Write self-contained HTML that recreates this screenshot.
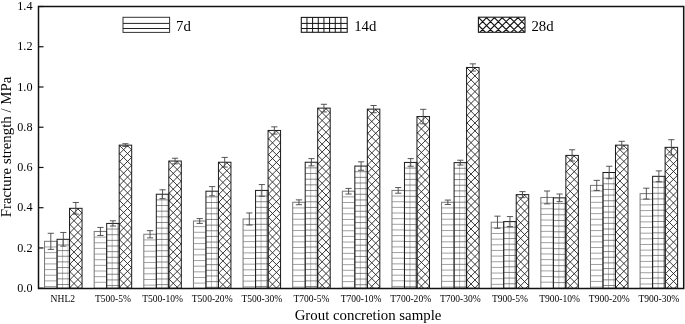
<!DOCTYPE html><html><head><meta charset="utf-8"><style>html,body{margin:0;padding:0;background:#fff;}svg{display:block;will-change:transform;}text{font-family:"Liberation Serif",serif;fill:#000;}</style></head><body>
<svg width="685" height="324" viewBox="0 0 685 324">
<defs><clipPath id="c1"><rect x="69.55" y="208.32" width="12.50" height="79.88"/></clipPath><clipPath id="c2"><rect x="119.18" y="145.14" width="12.50" height="143.06"/></clipPath><clipPath id="c3"><rect x="168.81" y="161.03" width="12.50" height="127.17"/></clipPath><clipPath id="c4"><rect x="218.44" y="162.24" width="12.50" height="125.96"/></clipPath><clipPath id="c5"><rect x="268.07" y="130.45" width="12.50" height="157.75"/></clipPath><clipPath id="c6"><rect x="317.70" y="108.11" width="12.50" height="180.09"/></clipPath><clipPath id="c7"><rect x="367.33" y="109.12" width="12.50" height="179.08"/></clipPath><clipPath id="c8"><rect x="416.96" y="116.56" width="12.50" height="171.64"/></clipPath><clipPath id="c9"><rect x="466.59" y="67.47" width="12.50" height="220.73"/></clipPath><clipPath id="c10"><rect x="516.22" y="194.64" width="12.50" height="93.56"/></clipPath><clipPath id="c11"><rect x="565.85" y="155.40" width="12.50" height="132.80"/></clipPath><clipPath id="c12"><rect x="615.48" y="145.14" width="12.50" height="143.06"/></clipPath><clipPath id="c13"><rect x="665.11" y="147.35" width="12.50" height="140.85"/></clipPath><clipPath id="c14"><rect x="478.4" y="17.2" width="46.60" height="15.10"/></clipPath></defs>
<path d="M44.55 246.97H57.05 M44.55 252.62H57.05 M44.55 258.27H57.05 M44.55 263.92H57.05 M44.55 269.57H57.05 M44.55 275.22H57.05 M44.55 280.87H57.05 M44.55 286.52H57.05" stroke="#8a8a8a" stroke-width="0.8" fill="none"/>
<rect x="44.55" y="241.32" width="12.50" height="46.88" fill="none" stroke="#777" stroke-width="1.0"/>
<path d="M62.55 239.30V288.20 M68.05 239.30V288.20" stroke="#aaa" stroke-width="0.8" fill="none"/>
<path d="M57.05 244.95H69.55 M57.05 250.60H69.55 M57.05 256.25H69.55 M57.05 261.90H69.55 M57.05 267.55H69.55 M57.05 273.20H69.55 M57.05 278.85H69.55 M57.05 284.50H69.55" stroke="#555" stroke-width="0.7" fill="none"/>
<rect x="57.05" y="239.30" width="12.50" height="48.90" fill="none" stroke="#1a1a1a" stroke-width="1.0"/>
<path clip-path="url(#c1)" d="M67.55 182.87L84.05 199.37 M67.55 190.72L84.05 207.22 M67.55 198.57L84.05 215.07 M67.55 206.42L84.05 222.92 M67.55 214.27L84.05 230.77 M67.55 222.12L84.05 238.62 M67.55 229.97L84.05 246.47 M67.55 237.82L84.05 254.32 M67.55 245.67L84.05 262.17 M67.55 253.52L84.05 270.02 M67.55 261.37L84.05 277.87 M67.55 269.22L84.05 285.72 M67.55 277.07L84.05 293.57 M67.55 284.92L84.05 301.42 M67.55 292.77L84.05 309.27 M67.55 300.62L84.05 317.12 M67.55 203.57L84.05 187.07 M67.55 211.42L84.05 194.92 M67.55 219.27L84.05 202.77 M67.55 227.12L84.05 210.62 M67.55 234.97L84.05 218.47 M67.55 242.82L84.05 226.32 M67.55 250.67L84.05 234.17 M67.55 258.52L84.05 242.02 M67.55 266.37L84.05 249.87 M67.55 274.22L84.05 257.72 M67.55 282.07L84.05 265.57 M67.55 289.92L84.05 273.42 M67.55 297.77L84.05 281.27 M67.55 305.62L84.05 289.12 M67.55 313.47L84.05 296.97" stroke="#222" stroke-width="0.9" fill="none"/>
<rect x="69.55" y="208.32" width="12.50" height="79.88" fill="none" stroke="#1a1a1a" stroke-width="1.0"/>
<path d="M50.80 233.27V249.37M47.70 233.27H53.90M47.70 249.37H53.90" stroke="#444" stroke-width="0.9" fill="none"/>
<path d="M63.30 232.46V246.15M60.20 232.46H66.40M60.20 246.15H66.40" stroke="#444" stroke-width="0.9" fill="none"/>
<path d="M75.80 202.48V214.15M72.70 202.48H78.90M72.70 214.15H78.90" stroke="#444" stroke-width="0.9" fill="none"/>
<text x="62.80" y="301.9" font-size="9.55" text-anchor="middle">NHL2</text>
<path d="M94.18 237.11H106.68 M94.18 242.76H106.68 M94.18 248.41H106.68 M94.18 254.06H106.68 M94.18 259.71H106.68 M94.18 265.36H106.68 M94.18 271.01H106.68 M94.18 276.66H106.68 M94.18 282.31H106.68" stroke="#8a8a8a" stroke-width="0.8" fill="none"/>
<rect x="94.18" y="231.46" width="12.50" height="56.74" fill="none" stroke="#777" stroke-width="1.0"/>
<path d="M112.18 223.41V288.20 M117.68 223.41V288.20" stroke="#aaa" stroke-width="0.8" fill="none"/>
<path d="M106.68 229.06H119.18 M106.68 234.71H119.18 M106.68 240.36H119.18 M106.68 246.01H119.18 M106.68 251.66H119.18 M106.68 257.31H119.18 M106.68 262.96H119.18 M106.68 268.61H119.18 M106.68 274.26H119.18 M106.68 279.91H119.18 M106.68 285.56H119.18" stroke="#555" stroke-width="0.7" fill="none"/>
<rect x="106.68" y="223.41" width="12.50" height="64.79" fill="none" stroke="#1a1a1a" stroke-width="1.0"/>
<path clip-path="url(#c2)" d="M117.18 119.69L133.68 136.19 M117.18 127.54L133.68 144.04 M117.18 135.39L133.68 151.89 M117.18 143.24L133.68 159.74 M117.18 151.09L133.68 167.59 M117.18 158.94L133.68 175.44 M117.18 166.79L133.68 183.29 M117.18 174.64L133.68 191.14 M117.18 182.49L133.68 198.99 M117.18 190.34L133.68 206.84 M117.18 198.19L133.68 214.69 M117.18 206.04L133.68 222.54 M117.18 213.89L133.68 230.39 M117.18 221.74L133.68 238.24 M117.18 229.59L133.68 246.09 M117.18 237.44L133.68 253.94 M117.18 245.29L133.68 261.79 M117.18 253.14L133.68 269.64 M117.18 260.99L133.68 277.49 M117.18 268.84L133.68 285.34 M117.18 276.69L133.68 293.19 M117.18 284.54L133.68 301.04 M117.18 292.39L133.68 308.89 M117.18 300.24L133.68 316.74 M117.18 140.39L133.68 123.89 M117.18 148.24L133.68 131.74 M117.18 156.09L133.68 139.59 M117.18 163.94L133.68 147.44 M117.18 171.79L133.68 155.29 M117.18 179.64L133.68 163.14 M117.18 187.49L133.68 170.99 M117.18 195.34L133.68 178.84 M117.18 203.19L133.68 186.69 M117.18 211.04L133.68 194.54 M117.18 218.89L133.68 202.39 M117.18 226.74L133.68 210.24 M117.18 234.59L133.68 218.09 M117.18 242.44L133.68 225.94 M117.18 250.29L133.68 233.79 M117.18 258.14L133.68 241.64 M117.18 265.99L133.68 249.49 M117.18 273.84L133.68 257.34 M117.18 281.69L133.68 265.19 M117.18 289.54L133.68 273.04 M117.18 297.39L133.68 280.89 M117.18 305.24L133.68 288.74 M117.18 313.09L133.68 296.59" stroke="#222" stroke-width="0.9" fill="none"/>
<rect x="119.18" y="145.14" width="12.50" height="143.06" fill="none" stroke="#1a1a1a" stroke-width="1.0"/>
<path d="M100.43 227.43V235.48M97.33 227.43H103.53M97.33 235.48H103.53" stroke="#444" stroke-width="0.9" fill="none"/>
<path d="M112.93 220.79V226.02M109.83 220.79H116.03M109.83 226.02H116.03" stroke="#444" stroke-width="0.9" fill="none"/>
<path d="M125.43 143.73V146.55M122.33 143.73H128.53M122.33 146.55H128.53" stroke="#444" stroke-width="0.9" fill="none"/>
<text x="112.93" y="301.9" font-size="9.55" text-anchor="middle">T500-5%</text>
<path d="M143.81 239.92H156.31 M143.81 245.57H156.31 M143.81 251.22H156.31 M143.81 256.87H156.31 M143.81 262.52H156.31 M143.81 268.17H156.31 M143.81 273.82H156.31 M143.81 279.47H156.31 M143.81 285.12H156.31" stroke="#8a8a8a" stroke-width="0.8" fill="none"/>
<rect x="143.81" y="234.27" width="12.50" height="53.93" fill="none" stroke="#777" stroke-width="1.0"/>
<path d="M161.81 194.23V288.20 M167.31 194.23V288.20" stroke="#aaa" stroke-width="0.8" fill="none"/>
<path d="M156.31 199.88H168.81 M156.31 205.53H168.81 M156.31 211.18H168.81 M156.31 216.83H168.81 M156.31 222.48H168.81 M156.31 228.13H168.81 M156.31 233.78H168.81 M156.31 239.43H168.81 M156.31 245.08H168.81 M156.31 250.73H168.81 M156.31 256.38H168.81 M156.31 262.03H168.81 M156.31 267.68H168.81 M156.31 273.33H168.81 M156.31 278.98H168.81 M156.31 284.63H168.81" stroke="#555" stroke-width="0.7" fill="none"/>
<rect x="156.31" y="194.23" width="12.50" height="93.97" fill="none" stroke="#1a1a1a" stroke-width="1.0"/>
<path clip-path="url(#c3)" d="M166.81 135.58L183.31 152.08 M166.81 143.43L183.31 159.93 M166.81 151.28L183.31 167.78 M166.81 159.13L183.31 175.63 M166.81 166.98L183.31 183.48 M166.81 174.83L183.31 191.33 M166.81 182.68L183.31 199.18 M166.81 190.53L183.31 207.03 M166.81 198.38L183.31 214.88 M166.81 206.23L183.31 222.73 M166.81 214.08L183.31 230.58 M166.81 221.93L183.31 238.43 M166.81 229.78L183.31 246.28 M166.81 237.63L183.31 254.13 M166.81 245.48L183.31 261.98 M166.81 253.33L183.31 269.83 M166.81 261.18L183.31 277.68 M166.81 269.03L183.31 285.53 M166.81 276.88L183.31 293.38 M166.81 284.73L183.31 301.23 M166.81 292.58L183.31 309.08 M166.81 300.43L183.31 316.93 M166.81 156.28L183.31 139.78 M166.81 164.13L183.31 147.63 M166.81 171.98L183.31 155.48 M166.81 179.83L183.31 163.33 M166.81 187.68L183.31 171.18 M166.81 195.53L183.31 179.03 M166.81 203.38L183.31 186.88 M166.81 211.23L183.31 194.73 M166.81 219.08L183.31 202.58 M166.81 226.93L183.31 210.43 M166.81 234.78L183.31 218.28 M166.81 242.63L183.31 226.13 M166.81 250.48L183.31 233.98 M166.81 258.33L183.31 241.83 M166.81 266.18L183.31 249.68 M166.81 274.03L183.31 257.53 M166.81 281.88L183.31 265.38 M166.81 289.73L183.31 273.23 M166.81 297.58L183.31 281.08 M166.81 305.43L183.31 288.93 M166.81 313.28L183.31 296.78" stroke="#222" stroke-width="0.9" fill="none"/>
<rect x="168.81" y="161.03" width="12.50" height="127.17" fill="none" stroke="#1a1a1a" stroke-width="1.0"/>
<path d="M150.06 230.65V237.90M146.96 230.65H153.16M146.96 237.90H153.16" stroke="#444" stroke-width="0.9" fill="none"/>
<path d="M162.56 189.81V198.66M159.46 189.81H165.66M159.46 198.66H165.66" stroke="#444" stroke-width="0.9" fill="none"/>
<path d="M175.06 158.22V163.85M171.96 158.22H178.16M171.96 163.85H178.16" stroke="#444" stroke-width="0.9" fill="none"/>
<text x="162.56" y="301.9" font-size="9.55" text-anchor="middle">T500-10%</text>
<path d="M193.44 226.64H205.94 M193.44 232.29H205.94 M193.44 237.94H205.94 M193.44 243.59H205.94 M193.44 249.24H205.94 M193.44 254.89H205.94 M193.44 260.54H205.94 M193.44 266.19H205.94 M193.44 271.84H205.94 M193.44 277.49H205.94 M193.44 283.14H205.94" stroke="#8a8a8a" stroke-width="0.8" fill="none"/>
<rect x="193.44" y="220.99" width="12.50" height="67.21" fill="none" stroke="#777" stroke-width="1.0"/>
<path d="M211.44 191.21V288.20 M216.94 191.21V288.20" stroke="#aaa" stroke-width="0.8" fill="none"/>
<path d="M205.94 196.86H218.44 M205.94 202.51H218.44 M205.94 208.16H218.44 M205.94 213.81H218.44 M205.94 219.46H218.44 M205.94 225.11H218.44 M205.94 230.76H218.44 M205.94 236.41H218.44 M205.94 242.06H218.44 M205.94 247.71H218.44 M205.94 253.36H218.44 M205.94 259.01H218.44 M205.94 264.66H218.44 M205.94 270.31H218.44 M205.94 275.96H218.44 M205.94 281.61H218.44 M205.94 287.26H218.44" stroke="#555" stroke-width="0.7" fill="none"/>
<rect x="205.94" y="191.21" width="12.50" height="96.99" fill="none" stroke="#1a1a1a" stroke-width="1.0"/>
<path clip-path="url(#c4)" d="M216.44 136.79L232.94 153.29 M216.44 144.64L232.94 161.14 M216.44 152.49L232.94 168.99 M216.44 160.34L232.94 176.84 M216.44 168.19L232.94 184.69 M216.44 176.04L232.94 192.54 M216.44 183.89L232.94 200.39 M216.44 191.74L232.94 208.24 M216.44 199.59L232.94 216.09 M216.44 207.44L232.94 223.94 M216.44 215.29L232.94 231.79 M216.44 223.14L232.94 239.64 M216.44 230.99L232.94 247.49 M216.44 238.84L232.94 255.34 M216.44 246.69L232.94 263.19 M216.44 254.54L232.94 271.04 M216.44 262.39L232.94 278.89 M216.44 270.24L232.94 286.74 M216.44 278.09L232.94 294.59 M216.44 285.94L232.94 302.44 M216.44 293.79L232.94 310.29 M216.44 301.64L232.94 318.14 M216.44 157.49L232.94 140.99 M216.44 165.34L232.94 148.84 M216.44 173.19L232.94 156.69 M216.44 181.04L232.94 164.54 M216.44 188.89L232.94 172.39 M216.44 196.74L232.94 180.24 M216.44 204.59L232.94 188.09 M216.44 212.44L232.94 195.94 M216.44 220.29L232.94 203.79 M216.44 228.14L232.94 211.64 M216.44 235.99L232.94 219.49 M216.44 243.84L232.94 227.34 M216.44 251.69L232.94 235.19 M216.44 259.54L232.94 243.04 M216.44 267.39L232.94 250.89 M216.44 275.24L232.94 258.74 M216.44 283.09L232.94 266.59 M216.44 290.94L232.94 274.44 M216.44 298.79L232.94 282.29 M216.44 306.64L232.94 290.14 M216.44 314.49L232.94 297.99" stroke="#222" stroke-width="0.9" fill="none"/>
<rect x="218.44" y="162.24" width="12.50" height="125.96" fill="none" stroke="#1a1a1a" stroke-width="1.0"/>
<path d="M199.69 218.58V223.41M196.59 218.58H202.79M196.59 223.41H202.79" stroke="#444" stroke-width="0.9" fill="none"/>
<path d="M212.19 186.59V195.84M209.09 186.59H215.29M209.09 195.84H215.29" stroke="#444" stroke-width="0.9" fill="none"/>
<path d="M224.69 157.41V167.07M221.59 157.41H227.79M221.59 167.07H227.79" stroke="#444" stroke-width="0.9" fill="none"/>
<text x="212.19" y="301.9" font-size="9.55" text-anchor="middle">T500-20%</text>
<path d="M243.07 224.63H255.57 M243.07 230.28H255.57 M243.07 235.93H255.57 M243.07 241.58H255.57 M243.07 247.23H255.57 M243.07 252.88H255.57 M243.07 258.53H255.57 M243.07 264.18H255.57 M243.07 269.83H255.57 M243.07 275.48H255.57 M243.07 281.13H255.57 M243.07 286.78H255.57" stroke="#8a8a8a" stroke-width="0.8" fill="none"/>
<rect x="243.07" y="218.98" width="12.50" height="69.22" fill="none" stroke="#777" stroke-width="1.0"/>
<path d="M261.07 190.41V288.20 M266.57 190.41V288.20" stroke="#aaa" stroke-width="0.8" fill="none"/>
<path d="M255.57 196.06H268.07 M255.57 201.71H268.07 M255.57 207.36H268.07 M255.57 213.01H268.07 M255.57 218.66H268.07 M255.57 224.31H268.07 M255.57 229.96H268.07 M255.57 235.61H268.07 M255.57 241.26H268.07 M255.57 246.91H268.07 M255.57 252.56H268.07 M255.57 258.21H268.07 M255.57 263.86H268.07 M255.57 269.51H268.07 M255.57 275.16H268.07 M255.57 280.81H268.07 M255.57 286.46H268.07" stroke="#555" stroke-width="0.7" fill="none"/>
<rect x="255.57" y="190.41" width="12.50" height="97.79" fill="none" stroke="#1a1a1a" stroke-width="1.0"/>
<path clip-path="url(#c5)" d="M266.07 105.00L282.57 121.50 M266.07 112.85L282.57 129.35 M266.07 120.70L282.57 137.20 M266.07 128.55L282.57 145.05 M266.07 136.40L282.57 152.90 M266.07 144.25L282.57 160.75 M266.07 152.10L282.57 168.60 M266.07 159.95L282.57 176.45 M266.07 167.80L282.57 184.30 M266.07 175.65L282.57 192.15 M266.07 183.50L282.57 200.00 M266.07 191.35L282.57 207.85 M266.07 199.20L282.57 215.70 M266.07 207.05L282.57 223.55 M266.07 214.90L282.57 231.40 M266.07 222.75L282.57 239.25 M266.07 230.60L282.57 247.10 M266.07 238.45L282.57 254.95 M266.07 246.30L282.57 262.80 M266.07 254.15L282.57 270.65 M266.07 262.00L282.57 278.50 M266.07 269.85L282.57 286.35 M266.07 277.70L282.57 294.20 M266.07 285.55L282.57 302.05 M266.07 293.40L282.57 309.90 M266.07 301.25L282.57 317.75 M266.07 125.70L282.57 109.20 M266.07 133.55L282.57 117.05 M266.07 141.40L282.57 124.90 M266.07 149.25L282.57 132.75 M266.07 157.10L282.57 140.60 M266.07 164.95L282.57 148.45 M266.07 172.80L282.57 156.30 M266.07 180.65L282.57 164.15 M266.07 188.50L282.57 172.00 M266.07 196.35L282.57 179.85 M266.07 204.20L282.57 187.70 M266.07 212.05L282.57 195.55 M266.07 219.90L282.57 203.40 M266.07 227.75L282.57 211.25 M266.07 235.60L282.57 219.10 M266.07 243.45L282.57 226.95 M266.07 251.30L282.57 234.80 M266.07 259.15L282.57 242.65 M266.07 267.00L282.57 250.50 M266.07 274.85L282.57 258.35 M266.07 282.70L282.57 266.20 M266.07 290.55L282.57 274.05 M266.07 298.40L282.57 281.90 M266.07 306.25L282.57 289.75 M266.07 314.10L282.57 297.60" stroke="#222" stroke-width="0.9" fill="none"/>
<rect x="268.07" y="130.45" width="12.50" height="157.75" fill="none" stroke="#1a1a1a" stroke-width="1.0"/>
<path d="M249.32 212.95V225.02M246.22 212.95H252.42M246.22 225.02H252.42" stroke="#444" stroke-width="0.9" fill="none"/>
<path d="M261.82 184.57V196.25M258.72 184.57H264.92M258.72 196.25H264.92" stroke="#444" stroke-width="0.9" fill="none"/>
<path d="M274.32 126.83V134.07M271.22 126.83H277.42M271.22 134.07H277.42" stroke="#444" stroke-width="0.9" fill="none"/>
<text x="261.82" y="301.9" font-size="9.55" text-anchor="middle">T500-30%</text>
<path d="M292.70 207.93H305.20 M292.70 213.58H305.20 M292.70 219.23H305.20 M292.70 224.88H305.20 M292.70 230.53H305.20 M292.70 236.18H305.20 M292.70 241.83H305.20 M292.70 247.48H305.20 M292.70 253.13H305.20 M292.70 258.78H305.20 M292.70 264.43H305.20 M292.70 270.08H305.20 M292.70 275.73H305.20 M292.70 281.38H305.20 M292.70 287.03H305.20" stroke="#8a8a8a" stroke-width="0.8" fill="none"/>
<rect x="292.70" y="202.28" width="12.50" height="85.92" fill="none" stroke="#777" stroke-width="1.0"/>
<path d="M310.70 162.24V288.20 M316.20 162.24V288.20" stroke="#aaa" stroke-width="0.8" fill="none"/>
<path d="M305.20 167.89H317.70 M305.20 173.54H317.70 M305.20 179.19H317.70 M305.20 184.84H317.70 M305.20 190.49H317.70 M305.20 196.14H317.70 M305.20 201.79H317.70 M305.20 207.44H317.70 M305.20 213.09H317.70 M305.20 218.74H317.70 M305.20 224.39H317.70 M305.20 230.04H317.70 M305.20 235.69H317.70 M305.20 241.34H317.70 M305.20 246.99H317.70 M305.20 252.64H317.70 M305.20 258.29H317.70 M305.20 263.94H317.70 M305.20 269.59H317.70 M305.20 275.24H317.70 M305.20 280.89H317.70 M305.20 286.54H317.70" stroke="#555" stroke-width="0.7" fill="none"/>
<rect x="305.20" y="162.24" width="12.50" height="125.96" fill="none" stroke="#1a1a1a" stroke-width="1.0"/>
<path clip-path="url(#c6)" d="M315.70 82.66L332.20 99.16 M315.70 90.51L332.20 107.01 M315.70 98.36L332.20 114.86 M315.70 106.21L332.20 122.71 M315.70 114.06L332.20 130.56 M315.70 121.91L332.20 138.41 M315.70 129.76L332.20 146.26 M315.70 137.61L332.20 154.11 M315.70 145.46L332.20 161.96 M315.70 153.31L332.20 169.81 M315.70 161.16L332.20 177.66 M315.70 169.01L332.20 185.51 M315.70 176.86L332.20 193.36 M315.70 184.71L332.20 201.21 M315.70 192.56L332.20 209.06 M315.70 200.41L332.20 216.91 M315.70 208.26L332.20 224.76 M315.70 216.11L332.20 232.61 M315.70 223.96L332.20 240.46 M315.70 231.81L332.20 248.31 M315.70 239.66L332.20 256.16 M315.70 247.51L332.20 264.01 M315.70 255.36L332.20 271.86 M315.70 263.21L332.20 279.71 M315.70 271.06L332.20 287.56 M315.70 278.91L332.20 295.41 M315.70 286.76L332.20 303.26 M315.70 294.61L332.20 311.11 M315.70 103.36L332.20 86.86 M315.70 111.21L332.20 94.71 M315.70 119.06L332.20 102.56 M315.70 126.91L332.20 110.41 M315.70 134.76L332.20 118.26 M315.70 142.61L332.20 126.11 M315.70 150.46L332.20 133.96 M315.70 158.31L332.20 141.81 M315.70 166.16L332.20 149.66 M315.70 174.01L332.20 157.51 M315.70 181.86L332.20 165.36 M315.70 189.71L332.20 173.21 M315.70 197.56L332.20 181.06 M315.70 205.41L332.20 188.91 M315.70 213.26L332.20 196.76 M315.70 221.11L332.20 204.61 M315.70 228.96L332.20 212.46 M315.70 236.81L332.20 220.31 M315.70 244.66L332.20 228.16 M315.70 252.51L332.20 236.01 M315.70 260.36L332.20 243.86 M315.70 268.21L332.20 251.71 M315.70 276.06L332.20 259.56 M315.70 283.91L332.20 267.41 M315.70 291.76L332.20 275.26 M315.70 299.61L332.20 283.11 M315.70 307.46L332.20 290.96 M315.70 315.31L332.20 298.81" stroke="#222" stroke-width="0.9" fill="none"/>
<rect x="317.70" y="108.11" width="12.50" height="180.09" fill="none" stroke="#1a1a1a" stroke-width="1.0"/>
<path d="M298.95 199.87V204.70M295.85 199.87H302.05M295.85 204.70H302.05" stroke="#444" stroke-width="0.9" fill="none"/>
<path d="M311.45 158.62V165.86M308.35 158.62H314.55M308.35 165.86H314.55" stroke="#444" stroke-width="0.9" fill="none"/>
<path d="M323.95 104.29V111.94M320.85 104.29H327.05M320.85 111.94H327.05" stroke="#444" stroke-width="0.9" fill="none"/>
<text x="311.45" y="301.9" font-size="9.55" text-anchor="middle">T700-5%</text>
<path d="M342.33 196.86H354.83 M342.33 202.51H354.83 M342.33 208.16H354.83 M342.33 213.81H354.83 M342.33 219.46H354.83 M342.33 225.11H354.83 M342.33 230.76H354.83 M342.33 236.41H354.83 M342.33 242.06H354.83 M342.33 247.71H354.83 M342.33 253.36H354.83 M342.33 259.01H354.83 M342.33 264.66H354.83 M342.33 270.31H354.83 M342.33 275.96H354.83 M342.33 281.61H354.83 M342.33 287.26H354.83" stroke="#8a8a8a" stroke-width="0.8" fill="none"/>
<rect x="342.33" y="191.21" width="12.50" height="96.99" fill="none" stroke="#777" stroke-width="1.0"/>
<path d="M360.33 166.06V288.20 M365.83 166.06V288.20" stroke="#aaa" stroke-width="0.8" fill="none"/>
<path d="M354.83 171.71H367.33 M354.83 177.36H367.33 M354.83 183.01H367.33 M354.83 188.66H367.33 M354.83 194.31H367.33 M354.83 199.96H367.33 M354.83 205.61H367.33 M354.83 211.26H367.33 M354.83 216.91H367.33 M354.83 222.56H367.33 M354.83 228.21H367.33 M354.83 233.86H367.33 M354.83 239.51H367.33 M354.83 245.16H367.33 M354.83 250.81H367.33 M354.83 256.46H367.33 M354.83 262.11H367.33 M354.83 267.76H367.33 M354.83 273.41H367.33 M354.83 279.06H367.33 M354.83 284.71H367.33" stroke="#555" stroke-width="0.7" fill="none"/>
<rect x="354.83" y="166.06" width="12.50" height="122.14" fill="none" stroke="#1a1a1a" stroke-width="1.0"/>
<path clip-path="url(#c7)" d="M365.33 83.67L381.83 100.17 M365.33 91.52L381.83 108.02 M365.33 99.37L381.83 115.87 M365.33 107.22L381.83 123.72 M365.33 115.07L381.83 131.57 M365.33 122.92L381.83 139.42 M365.33 130.77L381.83 147.27 M365.33 138.62L381.83 155.12 M365.33 146.47L381.83 162.97 M365.33 154.32L381.83 170.82 M365.33 162.17L381.83 178.67 M365.33 170.02L381.83 186.52 M365.33 177.87L381.83 194.37 M365.33 185.72L381.83 202.22 M365.33 193.57L381.83 210.07 M365.33 201.42L381.83 217.92 M365.33 209.27L381.83 225.77 M365.33 217.12L381.83 233.62 M365.33 224.97L381.83 241.47 M365.33 232.82L381.83 249.32 M365.33 240.67L381.83 257.17 M365.33 248.52L381.83 265.02 M365.33 256.37L381.83 272.87 M365.33 264.22L381.83 280.72 M365.33 272.07L381.83 288.57 M365.33 279.92L381.83 296.42 M365.33 287.77L381.83 304.27 M365.33 295.62L381.83 312.12 M365.33 104.37L381.83 87.87 M365.33 112.22L381.83 95.72 M365.33 120.07L381.83 103.57 M365.33 127.92L381.83 111.42 M365.33 135.77L381.83 119.27 M365.33 143.62L381.83 127.12 M365.33 151.47L381.83 134.97 M365.33 159.32L381.83 142.82 M365.33 167.17L381.83 150.67 M365.33 175.02L381.83 158.52 M365.33 182.87L381.83 166.37 M365.33 190.72L381.83 174.22 M365.33 198.57L381.83 182.07 M365.33 206.42L381.83 189.92 M365.33 214.27L381.83 197.77 M365.33 222.12L381.83 205.62 M365.33 229.97L381.83 213.47 M365.33 237.82L381.83 221.32 M365.33 245.67L381.83 229.17 M365.33 253.52L381.83 237.02 M365.33 261.37L381.83 244.87 M365.33 269.22L381.83 252.72 M365.33 277.07L381.83 260.57 M365.33 284.92L381.83 268.42 M365.33 292.77L381.83 276.27 M365.33 300.62L381.83 284.12 M365.33 308.47L381.83 291.97 M365.33 316.32L381.83 299.82" stroke="#222" stroke-width="0.9" fill="none"/>
<rect x="367.33" y="109.12" width="12.50" height="179.08" fill="none" stroke="#1a1a1a" stroke-width="1.0"/>
<path d="M348.58 188.40V194.03M345.48 188.40H351.68M345.48 194.03H351.68" stroke="#444" stroke-width="0.9" fill="none"/>
<path d="M361.08 161.84V170.29M357.98 161.84H364.18M357.98 170.29H364.18" stroke="#444" stroke-width="0.9" fill="none"/>
<path d="M373.58 105.50V112.74M370.48 105.50H376.68M370.48 112.74H376.68" stroke="#444" stroke-width="0.9" fill="none"/>
<text x="361.08" y="301.9" font-size="9.55" text-anchor="middle">T700-10%</text>
<path d="M391.96 196.06H404.46 M391.96 201.71H404.46 M391.96 207.36H404.46 M391.96 213.01H404.46 M391.96 218.66H404.46 M391.96 224.31H404.46 M391.96 229.96H404.46 M391.96 235.61H404.46 M391.96 241.26H404.46 M391.96 246.91H404.46 M391.96 252.56H404.46 M391.96 258.21H404.46 M391.96 263.86H404.46 M391.96 269.51H404.46 M391.96 275.16H404.46 M391.96 280.81H404.46 M391.96 286.46H404.46" stroke="#8a8a8a" stroke-width="0.8" fill="none"/>
<rect x="391.96" y="190.41" width="12.50" height="97.79" fill="none" stroke="#777" stroke-width="1.0"/>
<path d="M409.96 162.44V288.20 M415.46 162.44V288.20" stroke="#aaa" stroke-width="0.8" fill="none"/>
<path d="M404.46 168.09H416.96 M404.46 173.74H416.96 M404.46 179.39H416.96 M404.46 185.04H416.96 M404.46 190.69H416.96 M404.46 196.34H416.96 M404.46 201.99H416.96 M404.46 207.64H416.96 M404.46 213.29H416.96 M404.46 218.94H416.96 M404.46 224.59H416.96 M404.46 230.24H416.96 M404.46 235.89H416.96 M404.46 241.54H416.96 M404.46 247.19H416.96 M404.46 252.84H416.96 M404.46 258.49H416.96 M404.46 264.14H416.96 M404.46 269.79H416.96 M404.46 275.44H416.96 M404.46 281.09H416.96 M404.46 286.74H416.96" stroke="#555" stroke-width="0.7" fill="none"/>
<rect x="404.46" y="162.44" width="12.50" height="125.76" fill="none" stroke="#1a1a1a" stroke-width="1.0"/>
<path clip-path="url(#c8)" d="M414.96 91.11L431.46 107.61 M414.96 98.96L431.46 115.46 M414.96 106.81L431.46 123.31 M414.96 114.66L431.46 131.16 M414.96 122.51L431.46 139.01 M414.96 130.36L431.46 146.86 M414.96 138.21L431.46 154.71 M414.96 146.06L431.46 162.56 M414.96 153.91L431.46 170.41 M414.96 161.76L431.46 178.26 M414.96 169.61L431.46 186.11 M414.96 177.46L431.46 193.96 M414.96 185.31L431.46 201.81 M414.96 193.16L431.46 209.66 M414.96 201.01L431.46 217.51 M414.96 208.86L431.46 225.36 M414.96 216.71L431.46 233.21 M414.96 224.56L431.46 241.06 M414.96 232.41L431.46 248.91 M414.96 240.26L431.46 256.76 M414.96 248.11L431.46 264.61 M414.96 255.96L431.46 272.46 M414.96 263.81L431.46 280.31 M414.96 271.66L431.46 288.16 M414.96 279.51L431.46 296.01 M414.96 287.36L431.46 303.86 M414.96 295.21L431.46 311.71 M414.96 111.81L431.46 95.31 M414.96 119.66L431.46 103.16 M414.96 127.51L431.46 111.01 M414.96 135.36L431.46 118.86 M414.96 143.21L431.46 126.71 M414.96 151.06L431.46 134.56 M414.96 158.91L431.46 142.41 M414.96 166.76L431.46 150.26 M414.96 174.61L431.46 158.11 M414.96 182.46L431.46 165.96 M414.96 190.31L431.46 173.81 M414.96 198.16L431.46 181.66 M414.96 206.01L431.46 189.51 M414.96 213.86L431.46 197.36 M414.96 221.71L431.46 205.21 M414.96 229.56L431.46 213.06 M414.96 237.41L431.46 220.91 M414.96 245.26L431.46 228.76 M414.96 253.11L431.46 236.61 M414.96 260.96L431.46 244.46 M414.96 268.81L431.46 252.31 M414.96 276.66L431.46 260.16 M414.96 284.51L431.46 268.01 M414.96 292.36L431.46 275.86 M414.96 300.21L431.46 283.71 M414.96 308.06L431.46 291.56 M414.96 315.91L431.46 299.41" stroke="#222" stroke-width="0.9" fill="none"/>
<rect x="416.96" y="116.56" width="12.50" height="171.64" fill="none" stroke="#1a1a1a" stroke-width="1.0"/>
<path d="M398.21 187.59V193.23M395.11 187.59H401.31M395.11 193.23H401.31" stroke="#444" stroke-width="0.9" fill="none"/>
<path d="M410.71 158.62V166.26M407.61 158.62H413.81M407.61 166.26H413.81" stroke="#444" stroke-width="0.9" fill="none"/>
<path d="M423.21 109.32V123.81M420.11 109.32H426.31M420.11 123.81H426.31" stroke="#444" stroke-width="0.9" fill="none"/>
<text x="410.71" y="301.9" font-size="9.55" text-anchor="middle">T700-20%</text>
<path d="M441.59 207.93H454.09 M441.59 213.58H454.09 M441.59 219.23H454.09 M441.59 224.88H454.09 M441.59 230.53H454.09 M441.59 236.18H454.09 M441.59 241.83H454.09 M441.59 247.48H454.09 M441.59 253.13H454.09 M441.59 258.78H454.09 M441.59 264.43H454.09 M441.59 270.08H454.09 M441.59 275.73H454.09 M441.59 281.38H454.09 M441.59 287.03H454.09" stroke="#8a8a8a" stroke-width="0.8" fill="none"/>
<rect x="441.59" y="202.28" width="12.50" height="85.92" fill="none" stroke="#777" stroke-width="1.0"/>
<path d="M459.59 162.64V288.20 M465.09 162.64V288.20" stroke="#aaa" stroke-width="0.8" fill="none"/>
<path d="M454.09 168.29H466.59 M454.09 173.94H466.59 M454.09 179.59H466.59 M454.09 185.24H466.59 M454.09 190.89H466.59 M454.09 196.54H466.59 M454.09 202.19H466.59 M454.09 207.84H466.59 M454.09 213.49H466.59 M454.09 219.14H466.59 M454.09 224.79H466.59 M454.09 230.44H466.59 M454.09 236.09H466.59 M454.09 241.74H466.59 M454.09 247.39H466.59 M454.09 253.04H466.59 M454.09 258.69H466.59 M454.09 264.34H466.59 M454.09 269.99H466.59 M454.09 275.64H466.59 M454.09 281.29H466.59 M454.09 286.94H466.59" stroke="#555" stroke-width="0.7" fill="none"/>
<rect x="454.09" y="162.64" width="12.50" height="125.56" fill="none" stroke="#1a1a1a" stroke-width="1.0"/>
<path clip-path="url(#c9)" d="M464.59 42.02L481.09 58.52 M464.59 49.87L481.09 66.37 M464.59 57.72L481.09 74.22 M464.59 65.57L481.09 82.07 M464.59 73.42L481.09 89.92 M464.59 81.27L481.09 97.77 M464.59 89.12L481.09 105.62 M464.59 96.97L481.09 113.47 M464.59 104.82L481.09 121.32 M464.59 112.67L481.09 129.17 M464.59 120.52L481.09 137.02 M464.59 128.37L481.09 144.87 M464.59 136.22L481.09 152.72 M464.59 144.07L481.09 160.57 M464.59 151.92L481.09 168.42 M464.59 159.77L481.09 176.27 M464.59 167.62L481.09 184.12 M464.59 175.47L481.09 191.97 M464.59 183.32L481.09 199.82 M464.59 191.17L481.09 207.67 M464.59 199.02L481.09 215.52 M464.59 206.87L481.09 223.37 M464.59 214.72L481.09 231.22 M464.59 222.57L481.09 239.07 M464.59 230.42L481.09 246.92 M464.59 238.27L481.09 254.77 M464.59 246.12L481.09 262.62 M464.59 253.97L481.09 270.47 M464.59 261.82L481.09 278.32 M464.59 269.67L481.09 286.17 M464.59 277.52L481.09 294.02 M464.59 285.37L481.09 301.87 M464.59 293.22L481.09 309.72 M464.59 301.07L481.09 317.57 M464.59 62.72L481.09 46.22 M464.59 70.57L481.09 54.07 M464.59 78.42L481.09 61.92 M464.59 86.27L481.09 69.77 M464.59 94.12L481.09 77.62 M464.59 101.97L481.09 85.47 M464.59 109.82L481.09 93.32 M464.59 117.67L481.09 101.17 M464.59 125.52L481.09 109.02 M464.59 133.37L481.09 116.87 M464.59 141.22L481.09 124.72 M464.59 149.07L481.09 132.57 M464.59 156.92L481.09 140.42 M464.59 164.77L481.09 148.27 M464.59 172.62L481.09 156.12 M464.59 180.47L481.09 163.97 M464.59 188.32L481.09 171.82 M464.59 196.17L481.09 179.67 M464.59 204.02L481.09 187.52 M464.59 211.87L481.09 195.37 M464.59 219.72L481.09 203.22 M464.59 227.57L481.09 211.07 M464.59 235.42L481.09 218.92 M464.59 243.27L481.09 226.77 M464.59 251.12L481.09 234.62 M464.59 258.97L481.09 242.47 M464.59 266.82L481.09 250.32 M464.59 274.67L481.09 258.17 M464.59 282.52L481.09 266.02 M464.59 290.37L481.09 273.87 M464.59 298.22L481.09 281.72 M464.59 306.07L481.09 289.57 M464.59 313.92L481.09 297.42" stroke="#222" stroke-width="0.9" fill="none"/>
<rect x="466.59" y="67.47" width="12.50" height="220.73" fill="none" stroke="#1a1a1a" stroke-width="1.0"/>
<path d="M447.84 200.07V204.49M444.74 200.07H450.94M444.74 204.49H450.94" stroke="#444" stroke-width="0.9" fill="none"/>
<path d="M460.34 160.23V165.06M457.24 160.23H463.44M457.24 165.06H463.44" stroke="#444" stroke-width="0.9" fill="none"/>
<path d="M472.84 63.85V71.09M469.74 63.85H475.94M469.74 71.09H475.94" stroke="#444" stroke-width="0.9" fill="none"/>
<text x="460.34" y="301.9" font-size="9.55" text-anchor="middle">T700-30%</text>
<path d="M491.22 227.85H503.72 M491.22 233.50H503.72 M491.22 239.15H503.72 M491.22 244.80H503.72 M491.22 250.45H503.72 M491.22 256.10H503.72 M491.22 261.75H503.72 M491.22 267.40H503.72 M491.22 273.05H503.72 M491.22 278.70H503.72 M491.22 284.35H503.72" stroke="#8a8a8a" stroke-width="0.8" fill="none"/>
<rect x="491.22" y="222.20" width="12.50" height="66.00" fill="none" stroke="#777" stroke-width="1.0"/>
<path d="M509.22 221.60V288.20 M514.72 221.60V288.20" stroke="#aaa" stroke-width="0.8" fill="none"/>
<path d="M503.72 227.25H516.22 M503.72 232.90H516.22 M503.72 238.55H516.22 M503.72 244.20H516.22 M503.72 249.85H516.22 M503.72 255.50H516.22 M503.72 261.15H516.22 M503.72 266.80H516.22 M503.72 272.45H516.22 M503.72 278.10H516.22 M503.72 283.75H516.22" stroke="#555" stroke-width="0.7" fill="none"/>
<rect x="503.72" y="221.60" width="12.50" height="66.60" fill="none" stroke="#1a1a1a" stroke-width="1.0"/>
<path clip-path="url(#c10)" d="M514.22 169.19L530.72 185.69 M514.22 177.04L530.72 193.54 M514.22 184.89L530.72 201.39 M514.22 192.74L530.72 209.24 M514.22 200.59L530.72 217.09 M514.22 208.44L530.72 224.94 M514.22 216.29L530.72 232.79 M514.22 224.14L530.72 240.64 M514.22 231.99L530.72 248.49 M514.22 239.84L530.72 256.34 M514.22 247.69L530.72 264.19 M514.22 255.54L530.72 272.04 M514.22 263.39L530.72 279.89 M514.22 271.24L530.72 287.74 M514.22 279.09L530.72 295.59 M514.22 286.94L530.72 303.44 M514.22 294.79L530.72 311.29 M514.22 189.89L530.72 173.39 M514.22 197.74L530.72 181.24 M514.22 205.59L530.72 189.09 M514.22 213.44L530.72 196.94 M514.22 221.29L530.72 204.79 M514.22 229.14L530.72 212.64 M514.22 236.99L530.72 220.49 M514.22 244.84L530.72 228.34 M514.22 252.69L530.72 236.19 M514.22 260.54L530.72 244.04 M514.22 268.39L530.72 251.89 M514.22 276.24L530.72 259.74 M514.22 284.09L530.72 267.59 M514.22 291.94L530.72 275.44 M514.22 299.79L530.72 283.29 M514.22 307.64L530.72 291.14 M514.22 315.49L530.72 298.99" stroke="#222" stroke-width="0.9" fill="none"/>
<rect x="516.22" y="194.64" width="12.50" height="93.56" fill="none" stroke="#1a1a1a" stroke-width="1.0"/>
<path d="M497.47 216.17V228.24M494.37 216.17H500.57M494.37 228.24H500.57" stroke="#444" stroke-width="0.9" fill="none"/>
<path d="M509.97 216.57V226.63M506.87 216.57H513.07M506.87 226.63H513.07" stroke="#444" stroke-width="0.9" fill="none"/>
<path d="M522.47 191.62V197.65M519.37 191.62H525.57M519.37 197.65H525.57" stroke="#444" stroke-width="0.9" fill="none"/>
<text x="509.97" y="301.9" font-size="9.55" text-anchor="middle">T900-5%</text>
<path d="M540.85 203.10H553.35 M540.85 208.75H553.35 M540.85 214.40H553.35 M540.85 220.05H553.35 M540.85 225.70H553.35 M540.85 231.35H553.35 M540.85 237.00H553.35 M540.85 242.65H553.35 M540.85 248.30H553.35 M540.85 253.95H553.35 M540.85 259.60H553.35 M540.85 265.25H553.35 M540.85 270.90H553.35 M540.85 276.55H553.35 M540.85 282.20H553.35" stroke="#8a8a8a" stroke-width="0.8" fill="none"/>
<rect x="540.85" y="197.45" width="12.50" height="90.75" fill="none" stroke="#777" stroke-width="1.0"/>
<path d="M558.85 197.85V288.20 M564.35 197.85V288.20" stroke="#aaa" stroke-width="0.8" fill="none"/>
<path d="M553.35 203.50H565.85 M553.35 209.15H565.85 M553.35 214.80H565.85 M553.35 220.45H565.85 M553.35 226.10H565.85 M553.35 231.75H565.85 M553.35 237.40H565.85 M553.35 243.05H565.85 M553.35 248.70H565.85 M553.35 254.35H565.85 M553.35 260.00H565.85 M553.35 265.65H565.85 M553.35 271.30H565.85 M553.35 276.95H565.85 M553.35 282.60H565.85" stroke="#555" stroke-width="0.7" fill="none"/>
<rect x="553.35" y="197.85" width="12.50" height="90.35" fill="none" stroke="#1a1a1a" stroke-width="1.0"/>
<path clip-path="url(#c11)" d="M563.85 129.95L580.35 146.45 M563.85 137.80L580.35 154.30 M563.85 145.65L580.35 162.15 M563.85 153.50L580.35 170.00 M563.85 161.35L580.35 177.85 M563.85 169.20L580.35 185.70 M563.85 177.05L580.35 193.55 M563.85 184.90L580.35 201.40 M563.85 192.75L580.35 209.25 M563.85 200.60L580.35 217.10 M563.85 208.45L580.35 224.95 M563.85 216.30L580.35 232.80 M563.85 224.15L580.35 240.65 M563.85 232.00L580.35 248.50 M563.85 239.85L580.35 256.35 M563.85 247.70L580.35 264.20 M563.85 255.55L580.35 272.05 M563.85 263.40L580.35 279.90 M563.85 271.25L580.35 287.75 M563.85 279.10L580.35 295.60 M563.85 286.95L580.35 303.45 M563.85 294.80L580.35 311.30 M563.85 150.65L580.35 134.15 M563.85 158.50L580.35 142.00 M563.85 166.35L580.35 149.85 M563.85 174.20L580.35 157.70 M563.85 182.05L580.35 165.55 M563.85 189.90L580.35 173.40 M563.85 197.75L580.35 181.25 M563.85 205.60L580.35 189.10 M563.85 213.45L580.35 196.95 M563.85 221.30L580.35 204.80 M563.85 229.15L580.35 212.65 M563.85 237.00L580.35 220.50 M563.85 244.85L580.35 228.35 M563.85 252.70L580.35 236.20 M563.85 260.55L580.35 244.05 M563.85 268.40L580.35 251.90 M563.85 276.25L580.35 259.75 M563.85 284.10L580.35 267.60 M563.85 291.95L580.35 275.45 M563.85 299.80L580.35 283.30 M563.85 307.65L580.35 291.15 M563.85 315.50L580.35 299.00" stroke="#222" stroke-width="0.9" fill="none"/>
<rect x="565.85" y="155.40" width="12.50" height="132.80" fill="none" stroke="#1a1a1a" stroke-width="1.0"/>
<path d="M547.10 191.01V203.89M544.00 191.01H550.20M544.00 203.89H550.20" stroke="#444" stroke-width="0.9" fill="none"/>
<path d="M559.60 194.03V201.68M556.50 194.03H562.70M556.50 201.68H562.70" stroke="#444" stroke-width="0.9" fill="none"/>
<path d="M572.10 149.76V161.03M569.00 149.76H575.20M569.00 161.03H575.20" stroke="#444" stroke-width="0.9" fill="none"/>
<text x="559.60" y="301.9" font-size="9.55" text-anchor="middle">T900-10%</text>
<path d="M590.48 191.03H602.98 M590.48 196.68H602.98 M590.48 202.33H602.98 M590.48 207.98H602.98 M590.48 213.63H602.98 M590.48 219.28H602.98 M590.48 224.93H602.98 M590.48 230.58H602.98 M590.48 236.23H602.98 M590.48 241.88H602.98 M590.48 247.53H602.98 M590.48 253.18H602.98 M590.48 258.83H602.98 M590.48 264.48H602.98 M590.48 270.13H602.98 M590.48 275.78H602.98 M590.48 281.43H602.98 M590.48 287.08H602.98" stroke="#8a8a8a" stroke-width="0.8" fill="none"/>
<rect x="590.48" y="185.38" width="12.50" height="102.82" fill="none" stroke="#777" stroke-width="1.0"/>
<path d="M608.48 172.50V288.20 M613.98 172.50V288.20" stroke="#aaa" stroke-width="0.8" fill="none"/>
<path d="M602.98 178.15H615.48 M602.98 183.80H615.48 M602.98 189.45H615.48 M602.98 195.10H615.48 M602.98 200.75H615.48 M602.98 206.40H615.48 M602.98 212.05H615.48 M602.98 217.70H615.48 M602.98 223.35H615.48 M602.98 229.00H615.48 M602.98 234.65H615.48 M602.98 240.30H615.48 M602.98 245.95H615.48 M602.98 251.60H615.48 M602.98 257.25H615.48 M602.98 262.90H615.48 M602.98 268.55H615.48 M602.98 274.20H615.48 M602.98 279.85H615.48 M602.98 285.50H615.48" stroke="#555" stroke-width="0.7" fill="none"/>
<rect x="602.98" y="172.50" width="12.50" height="115.70" fill="none" stroke="#1a1a1a" stroke-width="1.0"/>
<path clip-path="url(#c12)" d="M613.48 119.69L629.98 136.19 M613.48 127.54L629.98 144.04 M613.48 135.39L629.98 151.89 M613.48 143.24L629.98 159.74 M613.48 151.09L629.98 167.59 M613.48 158.94L629.98 175.44 M613.48 166.79L629.98 183.29 M613.48 174.64L629.98 191.14 M613.48 182.49L629.98 198.99 M613.48 190.34L629.98 206.84 M613.48 198.19L629.98 214.69 M613.48 206.04L629.98 222.54 M613.48 213.89L629.98 230.39 M613.48 221.74L629.98 238.24 M613.48 229.59L629.98 246.09 M613.48 237.44L629.98 253.94 M613.48 245.29L629.98 261.79 M613.48 253.14L629.98 269.64 M613.48 260.99L629.98 277.49 M613.48 268.84L629.98 285.34 M613.48 276.69L629.98 293.19 M613.48 284.54L629.98 301.04 M613.48 292.39L629.98 308.89 M613.48 300.24L629.98 316.74 M613.48 140.39L629.98 123.89 M613.48 148.24L629.98 131.74 M613.48 156.09L629.98 139.59 M613.48 163.94L629.98 147.44 M613.48 171.79L629.98 155.29 M613.48 179.64L629.98 163.14 M613.48 187.49L629.98 170.99 M613.48 195.34L629.98 178.84 M613.48 203.19L629.98 186.69 M613.48 211.04L629.98 194.54 M613.48 218.89L629.98 202.39 M613.48 226.74L629.98 210.24 M613.48 234.59L629.98 218.09 M613.48 242.44L629.98 225.94 M613.48 250.29L629.98 233.79 M613.48 258.14L629.98 241.64 M613.48 265.99L629.98 249.49 M613.48 273.84L629.98 257.34 M613.48 281.69L629.98 265.19 M613.48 289.54L629.98 273.04 M613.48 297.39L629.98 280.89 M613.48 305.24L629.98 288.74 M613.48 313.09L629.98 296.59" stroke="#222" stroke-width="0.9" fill="none"/>
<rect x="615.48" y="145.14" width="12.50" height="143.06" fill="none" stroke="#1a1a1a" stroke-width="1.0"/>
<path d="M596.73 180.35V190.41M593.63 180.35H599.83M593.63 190.41H599.83" stroke="#444" stroke-width="0.9" fill="none"/>
<path d="M609.23 166.26V178.74M606.13 166.26H612.33M606.13 178.74H612.33" stroke="#444" stroke-width="0.9" fill="none"/>
<path d="M621.73 141.31V148.96M618.63 141.31H624.83M618.63 148.96H624.83" stroke="#444" stroke-width="0.9" fill="none"/>
<text x="609.23" y="301.9" font-size="9.55" text-anchor="middle">T900-20%</text>
<path d="M640.11 199.28H652.61 M640.11 204.93H652.61 M640.11 210.58H652.61 M640.11 216.23H652.61 M640.11 221.88H652.61 M640.11 227.53H652.61 M640.11 233.18H652.61 M640.11 238.83H652.61 M640.11 244.48H652.61 M640.11 250.13H652.61 M640.11 255.78H652.61 M640.11 261.43H652.61 M640.11 267.08H652.61 M640.11 272.73H652.61 M640.11 278.38H652.61 M640.11 284.03H652.61" stroke="#8a8a8a" stroke-width="0.8" fill="none"/>
<rect x="640.11" y="193.63" width="12.50" height="94.57" fill="none" stroke="#777" stroke-width="1.0"/>
<path d="M658.11 176.32V288.20 M663.61 176.32V288.20" stroke="#aaa" stroke-width="0.8" fill="none"/>
<path d="M652.61 181.97H665.11 M652.61 187.62H665.11 M652.61 193.27H665.11 M652.61 198.92H665.11 M652.61 204.57H665.11 M652.61 210.22H665.11 M652.61 215.87H665.11 M652.61 221.52H665.11 M652.61 227.17H665.11 M652.61 232.82H665.11 M652.61 238.47H665.11 M652.61 244.12H665.11 M652.61 249.77H665.11 M652.61 255.42H665.11 M652.61 261.07H665.11 M652.61 266.72H665.11 M652.61 272.37H665.11 M652.61 278.02H665.11 M652.61 283.67H665.11" stroke="#555" stroke-width="0.7" fill="none"/>
<rect x="652.61" y="176.32" width="12.50" height="111.88" fill="none" stroke="#1a1a1a" stroke-width="1.0"/>
<path clip-path="url(#c13)" d="M663.11 121.90L679.61 138.40 M663.11 129.75L679.61 146.25 M663.11 137.60L679.61 154.10 M663.11 145.45L679.61 161.95 M663.11 153.30L679.61 169.80 M663.11 161.15L679.61 177.65 M663.11 169.00L679.61 185.50 M663.11 176.85L679.61 193.35 M663.11 184.70L679.61 201.20 M663.11 192.55L679.61 209.05 M663.11 200.40L679.61 216.90 M663.11 208.25L679.61 224.75 M663.11 216.10L679.61 232.60 M663.11 223.95L679.61 240.45 M663.11 231.80L679.61 248.30 M663.11 239.65L679.61 256.15 M663.11 247.50L679.61 264.00 M663.11 255.35L679.61 271.85 M663.11 263.20L679.61 279.70 M663.11 271.05L679.61 287.55 M663.11 278.90L679.61 295.40 M663.11 286.75L679.61 303.25 M663.11 294.60L679.61 311.10 M663.11 142.60L679.61 126.10 M663.11 150.45L679.61 133.95 M663.11 158.30L679.61 141.80 M663.11 166.15L679.61 149.65 M663.11 174.00L679.61 157.50 M663.11 181.85L679.61 165.35 M663.11 189.70L679.61 173.20 M663.11 197.55L679.61 181.05 M663.11 205.40L679.61 188.90 M663.11 213.25L679.61 196.75 M663.11 221.10L679.61 204.60 M663.11 228.95L679.61 212.45 M663.11 236.80L679.61 220.30 M663.11 244.65L679.61 228.15 M663.11 252.50L679.61 236.00 M663.11 260.35L679.61 243.85 M663.11 268.20L679.61 251.70 M663.11 276.05L679.61 259.55 M663.11 283.90L679.61 267.40 M663.11 291.75L679.61 275.25 M663.11 299.60L679.61 283.10 M663.11 307.45L679.61 290.95 M663.11 315.30L679.61 298.80" stroke="#222" stroke-width="0.9" fill="none"/>
<rect x="665.11" y="147.35" width="12.50" height="140.85" fill="none" stroke="#1a1a1a" stroke-width="1.0"/>
<path d="M646.36 188.20V199.06M643.26 188.20H649.46M643.26 199.06H649.46" stroke="#444" stroke-width="0.9" fill="none"/>
<path d="M658.86 170.89V181.76M655.76 170.89H661.96M655.76 181.76H661.96" stroke="#444" stroke-width="0.9" fill="none"/>
<path d="M671.36 139.70V155.00M668.26 139.70H674.46M668.26 155.00H674.46" stroke="#444" stroke-width="0.9" fill="none"/>
<text x="658.86" y="301.9" font-size="9.55" text-anchor="middle">T900-30%</text>
<rect x="38.5" y="6.5" width="645.20" height="282.00" fill="none" stroke="#111" stroke-width="1.5"/>
<path d="M38.5 288.20H43.5" stroke="#111" stroke-width="1.2"/>
<text x="32.5" y="291.80" font-size="12.2" text-anchor="end">0.0</text>
<path d="M38.5 247.96H43.5" stroke="#111" stroke-width="1.2"/>
<text x="32.5" y="251.56" font-size="12.2" text-anchor="end">0.2</text>
<path d="M38.5 207.71H43.5" stroke="#111" stroke-width="1.2"/>
<text x="32.5" y="211.31" font-size="12.2" text-anchor="end">0.4</text>
<path d="M38.5 167.47H43.5" stroke="#111" stroke-width="1.2"/>
<text x="32.5" y="171.07" font-size="12.2" text-anchor="end">0.6</text>
<path d="M38.5 127.23H43.5" stroke="#111" stroke-width="1.2"/>
<text x="32.5" y="130.83" font-size="12.2" text-anchor="end">0.8</text>
<path d="M38.5 86.99H43.5" stroke="#111" stroke-width="1.2"/>
<text x="32.5" y="90.59" font-size="12.2" text-anchor="end">1.0</text>
<path d="M38.5 46.74H43.5" stroke="#111" stroke-width="1.2"/>
<text x="32.5" y="50.34" font-size="12.2" text-anchor="end">1.2</text>
<path d="M38.5 6.50H43.5" stroke="#111" stroke-width="1.2"/>
<text x="32.5" y="10.10" font-size="12.2" text-anchor="end">1.4</text>
<path d="M123.0 23.4H169.6M123.0 28.5H169.6" stroke="#222" stroke-width="1.0" fill="none"/>
<rect x="123.0" y="17.3" width="46.60" height="15.10" fill="none" stroke="#333" stroke-width="1.0"/>
<text x="176.0" y="30.8" font-size="14.8">7d</text>
<path d="M301.3 23.4H347.2 M301.3 28.5H347.2 M306.96 17.4V32.3 M312.62 17.4V32.3 M318.28 17.4V32.3 M323.94 17.4V32.3 M329.60 17.4V32.3 M335.26 17.4V32.3 M340.92 17.4V32.3" stroke="#111" stroke-width="1.0" fill="none"/>
<rect x="301.3" y="17.4" width="45.90" height="14.90" fill="none" stroke="#1a1a1a" stroke-width="1.1"/>
<text x="354.2" y="30.8" font-size="14.8">14d</text>
<path clip-path="url(#c14)" d="M398.20 15.70L420.20 37.70 M402.20 15.70L380.20 37.70 M406.05 15.70L428.05 37.70 M410.05 15.70L388.05 37.70 M413.90 15.70L435.90 37.70 M417.90 15.70L395.90 37.70 M421.75 15.70L443.75 37.70 M425.75 15.70L403.75 37.70 M429.60 15.70L451.60 37.70 M433.60 15.70L411.60 37.70 M437.45 15.70L459.45 37.70 M441.45 15.70L419.45 37.70 M445.30 15.70L467.30 37.70 M449.30 15.70L427.30 37.70 M453.15 15.70L475.15 37.70 M457.15 15.70L435.15 37.70 M461.00 15.70L483.00 37.70 M465.00 15.70L443.00 37.70 M468.85 15.70L490.85 37.70 M472.85 15.70L450.85 37.70 M476.70 15.70L498.70 37.70 M480.70 15.70L458.70 37.70 M484.55 15.70L506.55 37.70 M488.55 15.70L466.55 37.70 M492.40 15.70L514.40 37.70 M496.40 15.70L474.40 37.70 M500.25 15.70L522.25 37.70 M504.25 15.70L482.25 37.70 M508.10 15.70L530.10 37.70 M512.10 15.70L490.10 37.70 M515.95 15.70L537.95 37.70 M519.95 15.70L497.95 37.70 M523.80 15.70L545.80 37.70 M527.80 15.70L505.80 37.70 M531.65 15.70L553.65 37.70 M535.65 15.70L513.65 37.70 M539.50 15.70L561.50 37.70 M543.50 15.70L521.50 37.70 M547.35 15.70L569.35 37.70 M551.35 15.70L529.35 37.70 M555.20 15.70L577.20 37.70 M559.20 15.70L537.20 37.70 M563.05 15.70L585.05 37.70 M567.05 15.70L545.05 37.70" stroke="#111" stroke-width="1.15" fill="none"/>
<rect x="478.4" y="17.2" width="46.60" height="15.10" fill="none" stroke="#1a1a1a" stroke-width="1.1"/>
<text x="531.4" y="30.8" font-size="14.8">28d</text>
<text x="368" y="320" font-size="14.85" text-anchor="middle">Grout concretion sample</text>
<text transform="translate(10.8 147) rotate(-90)" x="0" y="0" font-size="14.85" text-anchor="middle">Fracture strength / MPa</text>
</svg></body></html>
